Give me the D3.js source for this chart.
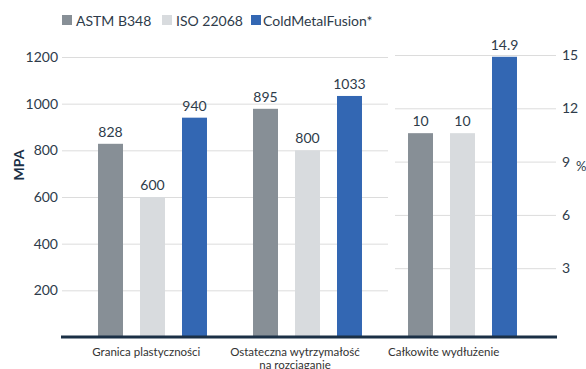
<!DOCTYPE html>
<html>
<head>
<meta charset="utf-8">
<script src="https://cdn.jsdelivr.net/npm/d3@7"></script>
<style>
  body { margin: 0; background: #fff; }
  text { font-family: Lato, "Open Sans", sans-serif; }
</style>
</head>
<body>
<svg id="chart" width="586" height="369"></svg>
<script>
// data
var categories = ["Granica plastyczności", "Ostateczna wytrzymałość|na rozciaganie", "Całkowite wydłużenie"]
var series = ["ASTM B348", "ISO 22068", "ColdMetalFusion*"]
var colors = ["#878f96", "#d8dbde", "#3367b3"]
// heights as drawn (MPa for first two groups, % for the last one)
var astm = [828, 978, 10.6]
var iso = [600, 800, 10.6]
var cmf = [940, 1033, 14.9]
// printed labels
var astmLabels = ["828", "895", "10"]
var isoLabels = ["600", "800", "10"]
var cmfLabels = ["940", "1033", "14.9"]
var leftTicks = [200, 400, 600, 800, 1000, 1200]
var rightTicks = [3, 6, 9, 12, 15]

var svg = d3.select("#chart")

var yL = d3.scaleLinear().domain([0, 1200]).range([337, 57])
var yR = d3.scaleLinear().domain([0, 15]).range([321.5, 55])

var x0 = d3.scaleBand().domain(categories).range([75, 540])
    .paddingInner(0.297).paddingOuter(0.1485)
var x1 = d3.scaleBand().domain(series).range([0, x0.bandwidth()])
    .paddingInner(0.405).paddingOuter(0)
var xLab = d3.scaleBand().domain(categories).range([72, 518])

var textCol = "#2e3b4a"

// left gridlines + ticks
var gl = svg.append("g").attr("transform", "translate(62,0)")
  .call(d3.axisLeft(yL).tickValues(leftTicks).tickFormat(d3.format("d"))
    .tickSize(-326).tickPadding(4))
gl.select(".domain").remove()
gl.selectAll(".tick line").attr("stroke", "#dcdcdc")
gl.selectAll(".tick text").attr("fill", textCol).style("font-size", "14px")
  .style("font-family", "Lato")

// right gridlines + ticks
var gr = svg.append("g").attr("transform", "translate(556,0)")
  .call(d3.axisRight(yR).tickValues(rightTicks).tickSize(-161).tickPadding(6))
gr.select(".domain").remove()
gr.selectAll(".tick line").attr("stroke", "#dcdcdc")
gr.selectAll(".tick text").attr("fill", textCol).style("font-size", "14px")
  .style("font-family", "Lato")

// rows for drawing
var rows = categories.map(function(c, i){
  return {cat: c, idx: i, vals: [
    {s: series[0], v: astm[i], l: astmLabels[i], c: colors[0]},
    {s: series[1], v: iso[i], l: isoLabels[i], c: colors[1]},
    {s: series[2], v: cmf[i], l: cmfLabels[i], c: colors[2]}
  ]}
})

function yOf(i, v){
  // last group is drawn against the % axis
  return i == 2 ? yR(v) : yL(v)
}

var groups = svg.append("g").selectAll("g")
  .data(rows).enter().append("g")
  .attr("transform", function(d){ return "translate(" + x0(d.cat) + ",0)" })

groups.selectAll("rect")
  .data(function(d){ return d.vals.map(function(e){ e.i = d.idx; return e }) })
  .enter().append("rect")
  .attr("x", function(e){ return x1(e.s) })
  .attr("width", x1.bandwidth())
  .attr("y", function(e){ return yOf(e.i, e.v) })
  .attr("height", function(e){ return yL(0) - yOf(e.i, e.v) })
  .attr("fill", function(e){ return e.c })

groups.selectAll("text.val")
  .data(function(d){ return d.vals })
  .enter().append("text")
  .attr("class", "val")
  .attr("x", function(e){ return x1(e.s) + x1.bandwidth() / 2 })
  .attr("y", function(e){ return yOf(e.i, e.v) - 7 })
  .attr("text-anchor", "middle")
  .attr("fill", textCol)
  .style("font-size", "14px")
  .text(function(e){ return e.l })

// baseline
svg.append("line")
  .attr("x1", 61).attr("x2", 557)
  .attr("y1", yL(0)).attr("y2", yL(0))
  .attr("stroke", "#1b3046").attr("stroke-width", 3)

// category labels
var cl = svg.append("g").selectAll("text")
  .data(categories).enter().append("text")
  .attr("x", function(d){ return xLab(d) + xLab.bandwidth() / 2 })
  .attr("y", 356)
  .attr("text-anchor", "middle")
  .attr("fill", "#333")
  .style("font-size", "11.5px")
cl.each(function(d){
  var parts = d.split("|")
  var t = d3.select(this)
  parts.forEach(function(p, k){
    t.append("tspan").attr("x", xLab(d) + xLab.bandwidth() / 2)
      .attr("dy", k == 0 ? 0 : 13).text(p)
  })
})

// axis titles
svg.append("text")
  .attr("transform", "translate(24,165) rotate(-90)")
  .attr("text-anchor", "middle")
  .attr("fill", "#1b3046")
  .style("font-size", "14px").style("font-weight", "bold")
  .text("MPA")
svg.append("text")
  .attr("x", 576).attr("y", 171)
  .attr("fill", textCol).style("font-size", "13px")
  .text("%")

// legend
var lx = [62, 162, 251]
var leg = svg.append("g").selectAll("g")
  .data(series).enter().append("g")
  .attr("transform", function(d, i){ return "translate(" + lx[i] + ",15)" })
leg.append("rect").attr("width", 10).attr("height", 10)
  .attr("fill", function(d, i){ return colors[i] })
leg.append("text").attr("x", function(d, i){ return i == 2 ? 12 : 14 })
  .attr("y", 6).attr("dy", "0.35em")
  .attr("fill", textCol).style("font-size", "14px")
  .text(function(d){ return d })
</script>
</body>
</html>
